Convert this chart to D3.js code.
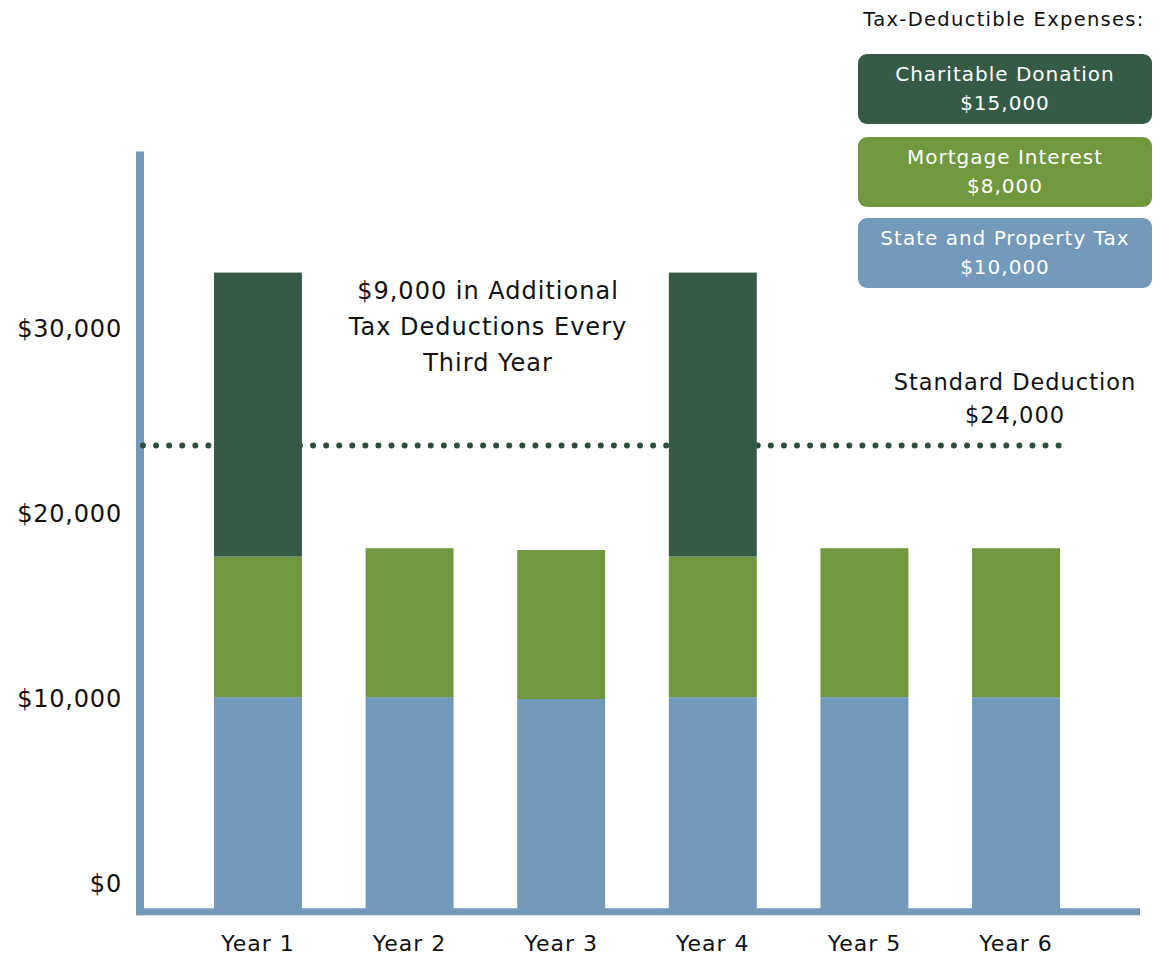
<!DOCTYPE html>
<html>
<head>
<meta charset="utf-8">
<script src="https://cdn.jsdelivr.net/npm/d3@7"></script>
<style>
  html, body { margin: 0; padding: 0; background: #ffffff; }
  svg { display: block; }
  text { font-family: "DejaVu Sans", sans-serif; }
</style>
</head>
<body>
<svg id="chart" width="1163" height="956"></svg>
<script>
// ---- data ----
const years = ["Year 1", "Year 2", "Year 3", "Year 4", "Year 5", "Year 6"];
const stateTax = [10100, 10100, 10000, 10100, 10100, 10100];
const mortgage = [7600, 8050, 8050, 7600, 8050, 8050];
const charity = [15350, 0, 0, 15350, 0, 0];
const seriesNames = ["State and Property Tax", "Mortgage Interest", "Charitable Donation"];
const legendLabels = [
  ["Charitable Donation", "$15,000"],
  ["Mortgage Interest", "$8,000"],
  ["State and Property Tax", "$10,000"]
];
const yTicks = [0, 10000, 20000, 30000];
const standardDeduction = 23700;
const annotation = ["$9,000 in Additional", "Tax Deductions Every", "Third Year"];
const stdLabel = ["Standard Deduction", "$24,000"];
const legendTitle = "Tax-Deductible Expenses:";

const colors = {
  "State and Property Tax": "#7399bb",
  "Mortgage Interest": "#72983f",
  "Charitable Donation": "#355b46"
};
const axisColor = "#7399bb";
const dotColor = "#2f4d3b";

const svg = d3.select("#chart");

// scales
const y = d3.scaleLinear().domain([0, 30000]).range([884, 329]);
const x = d3.scaleBand().domain(years).range([214, 1060]).paddingInner(0.42).paddingOuter(0);
const axisFloor = -1500;   // axis line sits slightly below zero
const axisTop = 39600;

const table = years.map((yr, i) => ({
  year: yr,
  "State and Property Tax": stateTax[i],
  "Mortgage Interest": mortgage[i],
  "Charitable Donation": charity[i]
}));
const stack = d3.stack().keys(seriesNames)(table);

// axes lines
const axisY = y(axisFloor);
svg.append("line")
  .attr("x1", 140).attr("x2", 140)
  .attr("y1", y(axisTop)).attr("y2", axisY + 3.5)
  .attr("stroke", axisColor).attr("stroke-width", 8);
svg.append("line")
  .attr("x1", 136).attr("x2", 1140)
  .attr("y1", axisY).attr("y2", axisY)
  .attr("stroke", axisColor).attr("stroke-width", 7);

// y tick labels
const yAxis = d3.axisLeft(y).tickValues(yTicks).tickSize(0).tickPadding(0)
  .tickFormat(d => "$" + d3.format(",")(d));
const gy = svg.append("g").attr("transform", "translate(122,0)").call(yAxis);
gy.select(".domain").remove();
gy.selectAll("text")
  .style("font-family", "'DejaVu Sans', sans-serif")
  .style("font-size", "24px")
  .attr("fill", "#111")
  .attr("letter-spacing", "0.8px");

// standard deduction dotted line (behind bars)
svg.append("line")
  .attr("x1", 143).attr("x2", 1059)
  .attr("y1", y(standardDeduction)).attr("y2", y(standardDeduction))
  .attr("stroke", dotColor).attr("stroke-width", 6)
  .attr("stroke-linecap", "round")
  .attr("stroke-dasharray", "0 13.08");

// bars
svg.append("g").selectAll("g")
  .data(stack)
  .join("g")
  .attr("fill", s => colors[s.key])
  .selectAll("rect")
  .data(s => s.filter(d => d[1] - d[0] > 0))
  .join("rect")
  .attr("x", d => x(d.data.year))
  .attr("width", x.bandwidth())
  .attr("y", d => y(d[1]))
  .attr("height", d => (d[0] === 0 ? axisY : y(d[0])) - y(d[1]));

// x labels
svg.append("g").selectAll("text")
  .data(years)
  .join("text")
  .attr("x", d => x(d) + x.bandwidth() / 2)
  .attr("y", 943)
  .attr("dy", "0.35em")
  .attr("text-anchor", "middle")
  .attr("font-size", "22px")
  .attr("letter-spacing", "1px")
  .attr("fill", "#111")
  .text(d => d);

// annotation
svg.append("g").selectAll("text")
  .data(annotation)
  .join("text")
  .attr("x", 488)
  .attr("y", (d, i) => 291 + i * 36)
  .attr("dy", "0.35em")
  .attr("text-anchor", "middle")
  .attr("font-size", "24px")
  .attr("letter-spacing", "1px")
  .attr("fill", "#111")
  .text(d => d);

// standard deduction label
svg.append("g").selectAll("text")
  .data(stdLabel)
  .join("text")
  .attr("x", 1015)
  .attr("y", (d, i) => 382 + i * 33)
  .attr("dy", "0.35em")
  .attr("text-anchor", "middle")
  .attr("font-size", "22.5px")
  .attr("letter-spacing", "1px")
  .attr("fill", "#111")
  .text(d => d);

// legend
svg.append("text")
  .attr("x", 1004).attr("y", 19).attr("dy", "0.35em")
  .attr("text-anchor", "middle")
  .attr("font-size", "19.5px")
  .attr("letter-spacing", "1.3px")
  .attr("fill", "#111")
  .text(legendTitle);

const legendKeys = ["Charitable Donation", "Mortgage Interest", "State and Property Tax"];
const legendTops = [54, 137, 218];
const lg = svg.append("g").selectAll("g")
  .data(legendKeys)
  .join("g")
  .attr("transform", (d, i) => `translate(858,${legendTops[i]})`);
lg.append("rect")
  .attr("width", 294).attr("height", 70)
  .attr("rx", 9).attr("ry", 9)
  .attr("fill", d => colors[d]);
lg.each(function(d, i) {
  const g = d3.select(this);
  legendLabels[i].forEach((t, j) => {
    g.append("text")
      .attr("x", 147)
      .attr("y", 20 + j * 29)
      .attr("dy", "0.35em")
      .attr("text-anchor", "middle")
      .attr("font-size", "20px")
      .attr("letter-spacing", "1px")
      .attr("fill", "#ffffff")
      .text(t);
  });
});
</script>
</body>
</html>
